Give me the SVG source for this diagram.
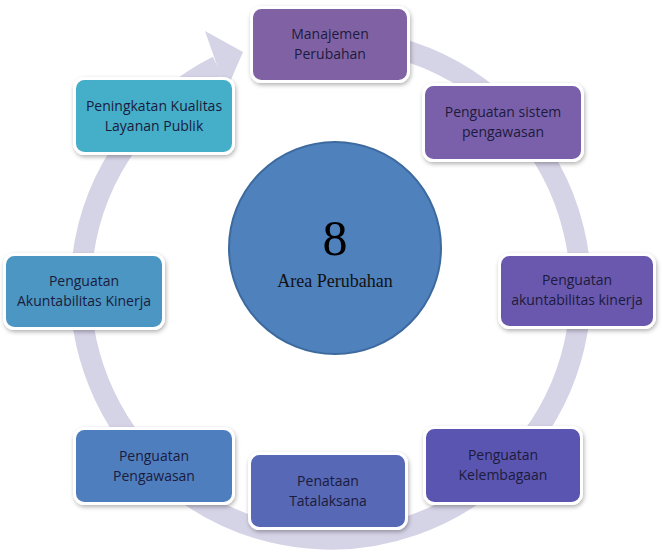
<svg xmlns="http://www.w3.org/2000/svg" width="662" height="558" viewBox="0 0 662 558">
<defs>
<filter id="sh" x="-10%" y="-10%" width="125%" height="130%">
<feDropShadow dx="1" dy="2" stdDeviation="2" flood-color="#000" flood-opacity="0.3"/>
</filter>
<style>
.box{stroke:#fff;stroke-width:3;filter:url(#sh)}
.lbl{font-family:"Open Sans","Liberation Sans",sans-serif;font-size:14px;fill:#1b1b3d;text-anchor:middle}
.ring{fill:none;stroke:#d5d3e6;stroke-width:21}
</style>
</defs>
<rect width="662" height="558" fill="#fff"/>
<g id="connectors">
<path class="ring" d="M279,44.5 A250,250 0 1 1 217.5,66.2"/>
<polygon points="205,31 243,52 226,91" fill="#d5d3e6"/>
</g>
<g id="center">
<circle cx="335" cy="248" r="106" fill="#4f81bd" stroke="#3c6a9e" stroke-width="2"/>
<text x="335" y="255" font-family="Liberation Serif,serif" font-size="50" text-anchor="middle" fill="#000">8</text>
<text x="335" y="287" font-family="Liberation Serif,serif" font-size="18" text-anchor="middle" fill="#111">Area Perubahan</text>
</g>
<g id="n1">
<rect class="box" x="251.5" y="7.5" width="157" height="74" rx="10" fill="#8062a4"/>
<text class="lbl" x="330" y="39">Manajemen</text>
<text class="lbl" x="330" y="59">Perubahan</text>
</g>
<g id="n2">
<rect class="box" x="423.5" y="84.5" width="159" height="76" rx="10" fill="#7a60aa"/>
<text class="lbl" x="503" y="117">Penguatan sistem</text>
<text class="lbl" x="503" y="137">pengawasan</text>
</g>
<g id="n3">
<rect class="box" x="499.5" y="254.5" width="155" height="73" rx="10" fill="#6b59ae"/>
<text class="lbl" x="577" y="285">Penguatan</text>
<text class="lbl" x="577" y="305">akuntabilitas kinerja</text>
</g>
<g id="n4">
<rect class="box" x="424.5" y="427.5" width="157" height="76" rx="10" fill="#5a55b0"/>
<text class="lbl" x="503" y="460">Penguatan</text>
<text class="lbl" x="503" y="480">Kelembagaan</text>
</g>
<g id="n5">
<rect class="box" x="249.5" y="453.5" width="157" height="75" rx="10" fill="#5667b6"/>
<text class="lbl" x="328" y="486">Penataan</text>
<text class="lbl" x="328" y="506">Tatalaksana</text>
</g>
<g id="n6">
<rect class="box" x="74.5" y="428.5" width="159" height="75" rx="10" fill="#4f7ebe"/>
<text class="lbl" x="154" y="461">Penguatan</text>
<text class="lbl" x="154" y="481">Pengawasan</text>
</g>
<g id="n7">
<rect class="box" x="4.5" y="254.5" width="159" height="74" rx="10" fill="#4b96c3"/>
<text class="lbl" x="84" y="286">Penguatan</text>
<text class="lbl" x="84" y="306">Akuntabilitas Kinerja</text>
</g>
<g id="n8">
<rect class="box" x="74.5" y="78.5" width="159" height="75" rx="10" fill="#45aec8"/>
<text class="lbl" x="154" y="111">Peningkatan Kualitas</text>
<text class="lbl" x="154" y="131">Layanan Publik</text>
</g>
</svg>
